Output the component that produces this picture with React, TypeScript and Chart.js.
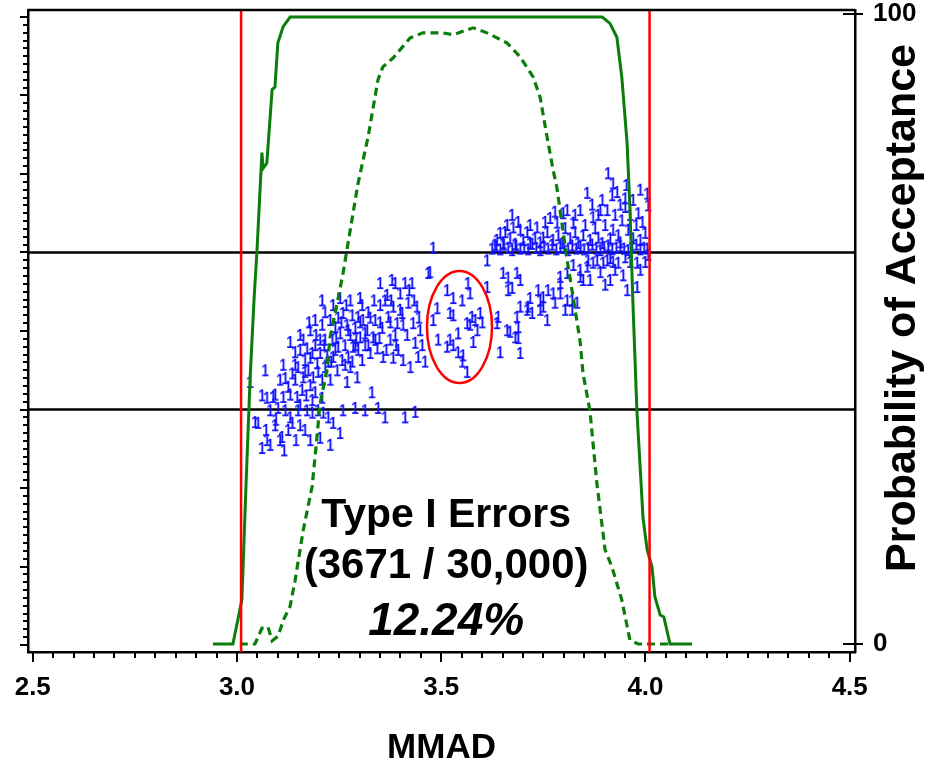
import React, { useEffect, useRef } from 'react';
import { Chart, registerables } from 'chart.js';

Chart.register(...registerables);

const FONT = "'Liberation Sans', Arial, Helvetica, sans-serif";

// axis ranges
const X_MIN = 2.4884;
const X_MAX = 4.5129;
const L_MIN = -0.089;
const L_MAX = 8.089;
const R_MIN = -1.27;
const R_MAX = 100.63;

// ticks
const xMajorTicks = [2.5, 3.0, 3.5, 4.0, 4.5];
const xTickLabels = ['2.5', '3.0', '3.5', '4.0', '4.5'];
const xMinorStep = 0.05;
const leftTickMax = 8;
const leftMinorStep = 0.1;
const rightTicks = [0, 100];
const rightTickLabels = ['0', '100'];

// reference lines
const specLimits = [3.01, 4.01];
const refLevels = [3, 5];

// probability-of-acceptance curves (right axis, %)
const solidCurveX = [2.941, 2.99, 3.012, 3.022, 3.032, 3.042, 3.049, 3.061, 3.064, 3.073, 3.086, 3.093, 3.1, 3.113, 3.122, 3.13, 3.894, 3.913, 3.93, 3.942, 3.955, 3.962, 3.969, 3.979, 3.987, 3.994, 4.004, 4.016, 4.023, 4.036, 4.045, 4.06, 4.114];
const solidCurveY = [0, 0, 7, 25, 42, 55, 62.5, 78, 75.5, 76.3, 88, 88.4, 95.4, 98, 98.8, 99.5, 99.5, 98.5, 96.3, 90, 79.5, 69, 54.6, 37, 28, 20, 15, 12.2, 7.5, 4.6, 4.3, 0, 0];

const dashedCurveX = [3.007, 3.044, 3.061, 3.076, 3.086, 3.1, 3.115, 3.13, 3.142, 3.162, 3.184, 3.196, 3.203, 3.22, 3.228, 3.245, 3.259, 3.269, 3.296, 3.321, 3.345, 3.357, 3.382, 3.399, 3.424, 3.455, 3.504, 3.529, 3.578, 3.612, 3.661, 3.693, 3.725, 3.742, 3.759, 3.774, 3.783, 3.808, 3.823, 3.84, 3.847, 3.864, 3.881, 3.901, 3.918, 3.942, 3.962, 3.982, 4.055];
const dashedCurveY = [0, 0, 2.5, 2.7, 0.5, 1.2, 4, 6, 10, 18, 25, 33, 38, 43.5, 48.7, 54, 58.6, 62.5, 73, 80.5, 89.5, 91.6, 93, 94.3, 96.2, 97, 97, 96.7, 97.8, 97, 95.4, 93.2, 90, 86.8, 80.5, 75.2, 72.5, 61, 55, 48, 43, 37, 25.5, 15, 12.2, 7, 0.6, 0, 0];

// simulated results (left axis), drawn as "1" symbols
const scatterLowBand: number[][] = [
  [3.032, 3.35], [3.044, 2.84], [3.051, 2.83], [3.061, 2.51], [3.069, 3.5], [3.073, 3.15], [3.073, 2.61], [3.081, 2.99], [3.081, 2.55], [3.088, 3.16],
  [3.093, 2.8], [3.1, 3.02], [3.105, 2.61], [3.11, 2.65], [3.113, 3.57], [3.113, 3.16], [3.118, 3.4], [3.125, 3.29], [3.13, 3.86], [3.13, 2.9],
  [3.135, 2.83], [3.135, 3.46], [3.142, 3.73], [3.142, 3.38], [3.147, 3.16], [3.149, 3.54], [3.154, 3.76], [3.159, 3.25], [3.162, 3.41], [3.166, 3.63],
  [3.171, 3.78], [3.171, 2.99], [3.174, 3.5], [3.179, 3.31], [3.184, 3.72], [3.184, 2.96], [3.186, 3.41], [3.191, 3.22], [3.196, 3.59], [3.198, 2.99],
  [3.203, 3.89], [3.203, 3.72], [3.208, 4.08], [3.208, 3.38], [3.208, 3.15], [3.208, 4.39], [3.211, 2.96], [3.215, 3.54], [3.22, 3.69], [3.223, 2.9],
  [3.228, 4.14], [3.228, 3.38], [3.233, 3.89], [3.235, 3.67], [3.235, 2.83], [3.24, 4.05], [3.245, 3.5], [3.247, 3.8],
  [3.166, 3.48], [3.179, 3.66], [3.191, 3.82], [3.198, 3.48], [3.215, 3.89], [3.223, 3.61], [3.24, 3.76], [3.247, 4.17], [3.118, 2.99], [3.149, 2.99],
  [3.154, 2.8], [3.166, 2.74], [3.093, 3.19], [3.105, 3.38], [3.13, 3.19], [3.142, 3.57], [3.154, 3.95], [3.179, 4.01], [3.191, 4.14], [3.215, 4.24],
  [3.235, 4.33], [3.203, 2.64], [3.228, 2.55], [3.179, 2.61],
  [3.061, 3.18], [3.071, 2.74], [3.095, 2.87], [3.115, 2.48], [3.125, 2.74], [3.144, 2.61], [3.154, 3.06], [3.169, 3.18], [3.184, 3.12],
  [3.162, 3.89], [3.176, 4.11], [3.193, 3.95], [3.213, 3.82], [3.23, 3.61], [3.242, 3.91],
];

const scatterMidBand: number[][] = [
  [3.252, 2.7], [3.252, 3.97], [3.257, 3.63], [3.259, 4.23], [3.259, 2.99], [3.264, 3.82], [3.269, 4.08], [3.269, 3.35], [3.272, 3.67], [3.277, 3.95],
  [3.277, 3.54], [3.282, 4.2], [3.284, 3.8], [3.289, 4.04], [3.294, 3.41], [3.296, 3.76], [3.296, 4.18], [3.301, 3.92], [3.306, 3.63], [3.308, 4.14],
  [3.313, 3.82], [3.318, 4.01], [3.321, 4.24], [3.326, 3.72], [3.33, 3.22], [3.333, 3.92], [3.338, 4.14], [3.343, 3.78], [3.345, 3.02], [3.35, 4.33],
  [3.35, 4.61], [3.355, 4.04], [3.357, 3.67], [3.362, 2.9], [3.367, 4.46], [3.37, 4.18], [3.375, 3.89], [3.379, 4.65], [3.382, 4.31], [3.382, 3.66],
  [3.387, 4.61], [3.392, 4.1], [3.394, 3.76], [3.399, 4.48], [3.404, 4.23], [3.406, 3.63], [3.411, 4.61], [3.411, 2.9], [3.416, 3.95], [3.419, 4.36],
  [3.424, 3.54], [3.428, 4.61], [3.431, 4.1], [3.436, 3.85], [3.44, 4.31], [3.443, 3.67], [3.448, 4.01], [3.46, 3.61], [3.468, 4.74],
  [3.264, 3.57], [3.272, 4.01], [3.289, 3.82], [3.301, 4.11], [3.313, 3.97], [3.326, 4.17], [3.338, 3.89], [3.35, 4.11], [3.362, 4.39], [3.375, 4.11],
  [3.387, 3.95], [3.399, 4.27], [3.252, 4.42], [3.277, 4.39], [3.301, 4.42], [3.289, 3.02], [3.313, 2.99], [3.436, 2.97],
  [3.255, 4.11], [3.267, 4.33], [3.282, 3.61], [3.291, 3.91], [3.306, 4.33], [3.321, 3.82], [3.335, 4.39], [3.348, 3.91], [3.365, 3.76], [3.377, 4.39],
  [3.389, 3.82], [3.406, 4.08], [3.421, 4.52], [3.433, 4.39], [3.445, 4.17], [3.453, 3.82],
];

const scatterCircled: number[][] = [
  [3.48, 5.06], [3.472, 4.75], [3.48, 4.14], [3.49, 4.29], [3.492, 3.89], [3.514, 4.52], [3.529, 4.42], [3.551, 4.39], [3.565, 4.61], [3.57, 4.48],
  [3.529, 4.2], [3.521, 4.23], [3.575, 4.18], [3.583, 4.14], [3.595, 4.23], [3.6, 4.11], [3.563, 4.1], [3.57, 4.08], [3.541, 3.97], [3.521, 3.89],
  [3.529, 3.82], [3.578, 3.86], [3.514, 3.8], [3.541, 3.73], [3.553, 3.69], [3.551, 3.61], [3.563, 3.48], [3.612, 4.56], [3.612, 4.9], [3.588, 4.01],
];

const scatterLowRight: number[][] = [
  [3.639, 4.18], [3.636, 4.1], [3.644, 3.73], [3.661, 4.01], [3.668, 3.99], [3.685, 4.18], [3.688, 4.05], [3.681, 3.92], [3.693, 3.72], [3.688, 3.91],
  [3.651, 4.74], [3.663, 4.68], [3.663, 4.52], [3.685, 4.74], [3.673, 4.55], [3.693, 4.65], [3.71, 4.27], [3.717, 4.42], [3.712, 4.31], [3.722, 4.23],
  [3.693, 4.31], [3.737, 4.52], [3.742, 4.39], [3.742, 4.27], [3.749, 4.43], [3.749, 4.31], [3.759, 4.14], [3.761, 4.52], [3.774, 4.48], [3.778, 4.36],
  [3.791, 4.48], [3.791, 4.61], [3.803, 4.27], [3.808, 4.39], [3.82, 4.27], [3.832, 4.36], [3.82, 4.39], [3.791, 4.69], [3.808, 4.74], [3.823, 4.84],
  [3.84, 4.78], [3.857, 4.82], [3.859, 4.9], [3.871, 4.87], [3.881, 4.9], [3.896, 4.87], [3.906, 4.9], [3.913, 4.93], [3.92, 4.88], [3.933, 4.87],
  [3.95, 4.94], [3.979, 4.87], [3.979, 4.56], [3.987, 4.78], [3.84, 4.69], [3.864, 4.65], [3.847, 4.65], [3.889, 4.75], [3.925, 4.78], [3.945, 4.71],
  [3.962, 4.88], [3.999, 4.88], [3.901, 4.59], [3.955, 4.52], [3.913, 4.65],
];

const scatterOnLine: number[][] = [
  [3.624, 5.05], [3.634, 5.08], [3.644, 5.04], [3.653, 5.1], [3.663, 5.06], [3.673, 5.03], [3.683, 5.09], [3.693, 5.05], [3.702, 5.07], [3.712, 5.04],
  [3.722, 5.11], [3.732, 5.06], [3.742, 5.03], [3.751, 5.08], [3.761, 5.05], [3.771, 5.1], [3.781, 5.04], [3.791, 5.07], [3.8, 5.06], [3.81, 5.03],
  [3.82, 5.09], [3.83, 5.05], [3.84, 5.08], [3.849, 5.04], [3.859, 5.06], [3.869, 5.1], [3.879, 5.05], [3.889, 5.03], [3.898, 5.07], [3.908, 5.09],
  [3.918, 5.04], [3.928, 5.06], [3.938, 5.08], [3.947, 5.05], [3.957, 5.03], [3.967, 5.07], [3.977, 5.1], [3.987, 5.04], [3.996, 5.06], [4.004, 5.05],
];

const scatterHighRight: number[][] = [
  [3.636, 5.16], [3.644, 5.25], [3.661, 5.35], [3.676, 5.32], [3.693, 5.29], [3.71, 5.26], [3.734, 5.32], [3.749, 5.19], [3.766, 5.44], [3.783, 5.38],
  [3.798, 5.5], [3.808, 5.54], [3.823, 5.38], [3.84, 5.54], [3.857, 5.76], [3.871, 5.45], [3.889, 5.54], [3.908, 6.01], [3.92, 5.88], [3.93, 5.77],
  [3.95, 5.69], [4.004, 5.75], [3.95, 5.58], [3.982, 5.5], [3.906, 5.54], [3.992, 5.39], [3.942, 5.41], [3.92, 5.29],
  [3.651, 5.12], [3.668, 5.18], [3.681, 5.11], [3.7, 5.16], [3.717, 5.12], [3.729, 5.18], [3.742, 5.13], [3.759, 5.26], [3.773, 5.16], [3.786, 5.22],
  [3.796, 5.12], [3.803, 5.31], [3.815, 5.18], [3.827, 5.26], [3.835, 5.12], [3.847, 5.22], [3.852, 5.35], [3.864, 5.16], [3.876, 5.31], [3.884, 5.19],
  [3.894, 5.12], [3.901, 5.35], [3.913, 5.18], [3.925, 5.48], [3.933, 5.22], [3.938, 5.13], [3.957, 5.29], [3.962, 5.48], [3.969, 5.18], [3.977, 5.35],
  [3.987, 5.16], [3.999, 5.25], [4.006, 5.6], [4.006, 4.97], [3.894, 5.67], [3.869, 5.61], [3.827, 5.48], [3.778, 5.52], [3.754, 5.39], [3.717, 5.35],
  [3.688, 5.39], [3.656, 5.26], [3.631, 5.1], [3.673, 5.48], [3.884, 5.48], [3.938, 5.61], [3.969, 5.67], [3.987, 5.8], [3.953, 5.86], [3.918, 5.73],
];

// annotation
const ellipseCenter = [3.5447, 4.051];
const ellipseRadii = [0.0796, 0.713];
const annotationX = 3.512;
const annotationLines = ['Type I Errors', '(3671 / 30,000)', '12.24%'];
const annotationBaselines = [18.6, 10.5, 1.4];
const annotationFonts = [`bold 41px ${FONT}`, `bold 42px ${FONT}`, `italic bold 46px ${FONT}`];
const rightTitle = 'Probability of Acceptance';
const xTitle = 'MMAD';

const GREEN = '#0b7d0b';

const overlayPlugin = {
  id: 'overlay',
  afterDatasetsDraw(chart: any) {
    const { ctx } = chart;
    const xs = chart.scales.x;
    const yl = chart.scales.y;
    const yr = chart.scales.yR;
    ctx.save();
    const cx = xs.getPixelForValue(ellipseCenter[0]);
    const cy = yl.getPixelForValue(ellipseCenter[1]);
    const rx = Math.abs(xs.getPixelForValue(ellipseCenter[0] + ellipseRadii[0]) - cx);
    const ry = Math.abs(yl.getPixelForValue(ellipseCenter[1] + ellipseRadii[1]) - cy);
    ctx.strokeStyle = '#ff0000';
    ctx.lineWidth = 2.5;
    ctx.beginPath();
    ctx.ellipse(cx, cy, rx, ry, 0, 0, Math.PI * 2);
    ctx.stroke();
    ctx.fillStyle = '#000';
    ctx.textAlign = 'center';
    ctx.textBaseline = 'alphabetic';
    const tx = xs.getPixelForValue(annotationX);
    annotationLines.forEach((t, i) => {
      ctx.font = annotationFonts[i];
      ctx.fillText(t, tx, yr.getPixelForValue(annotationBaselines[i]));
    });
    ctx.restore();
  },
  afterDraw(chart: any) {
    const { ctx, chartArea: a } = chart;
    const xs = chart.scales.x;
    const yl = chart.scales.y;
    const yr = chart.scales.yR;
    ctx.save();
    ctx.strokeStyle = '#000';
    ctx.lineWidth = 2;
    const seg = (x1: number, y1: number, x2: number, y2: number) => {
      ctx.beginPath();
      ctx.moveTo(x1, y1);
      ctx.lineTo(x2, y2);
      ctx.stroke();
    };
    const nX = Math.round((xMajorTicks[xMajorTicks.length - 1] - xMajorTicks[0]) / xMinorStep);
    for (let i = 0; i <= nX; i++) {
      const v = xMajorTicks[0] + i * xMinorStep;
      const px = Math.round(xs.getPixelForValue(v));
      const len = i % 10 === 0 ? 10 : 6;
      seg(px, a.bottom, px, a.bottom + len);
    }
    const nL = Math.round(leftTickMax / leftMinorStep);
    for (let i = 0; i <= nL; i++) {
      const py = Math.round(yl.getPixelForValue(i * leftMinorStep));
      const len = i % 10 === 0 ? 8 : 5;
      seg(a.left - len, py, a.left, py);
    }
    rightTicks.forEach((v) => {
      const py = Math.round(yr.getPixelForValue(v));
      seg(a.right - 12, py, a.right + 8, py);
    });
    ctx.lineWidth = 2.5;
    seg(a.left, a.top, a.right, a.top);
    ctx.fillStyle = '#000';
    ctx.font = `bold 43px ${FONT}`;
    ctx.textAlign = 'center';
    ctx.textBaseline = 'middle';
    ctx.translate(903, (a.top + a.bottom) / 2 - 23);
    ctx.rotate(-Math.PI / 2);
    ctx.fillText(rightTitle, 0, 0);
    ctx.restore();
  },
};

const pts = (arr: number[][]) => arr.map(([x, y]) => ({ x, y }));
const curve = (xsArr: number[], ysArr: number[]) => xsArr.map((x, i) => ({ x, y: ysArr[i] }));

export default function App() {
  const ref = useRef<HTMLCanvasElement>(null);

  useEffect(() => {
    const canvas = ref.current;
    if (!canvas) return;

    const glyph = document.createElement('canvas');
    glyph.width = 12;
    glyph.height = 18;
    const g = glyph.getContext('2d')!;
    g.fillStyle = '#1010ff';
    g.font = `bold 16px ${FONT}`;
    g.textAlign = 'center';
    g.textBaseline = 'alphabetic';
    g.translate(6, 0);
    g.scale(0.85, 1);
    g.fillText('1', 0, 14.7);

    const zeroPad = (s: any) => {
      s.paddingTop = 0;
      s.paddingBottom = 0;
      s.paddingLeft = 0;
      s.paddingRight = 0;
    };

    const lineDs = (data: any[], color: string, width: number, yAxisID: string, order: number, dash: number[] = []) => ({
      type: 'line' as const,
      data,
      borderColor: color,
      borderWidth: width,
      borderDash: dash,
      pointRadius: 0,
      showLine: true,
      fill: false,
      tension: 0,
      yAxisID,
      order,
    });

    const chart = new Chart(canvas, {
      type: 'scatter',
      data: {
        datasets: [
          ...refLevels.map((lv) => lineDs([{ x: X_MIN, y: lv }, { x: X_MAX, y: lv }], '#000000', 2.5, 'y', 6)),
          {
            type: 'scatter' as const,
            data: pts([...scatterLowBand, ...scatterMidBand, ...scatterCircled, ...scatterLowRight, ...scatterOnLine, ...scatterHighRight]),
            pointStyle: glyph as any,
            pointRadius: 5,
            showLine: false,
            yAxisID: 'y',
            order: 5,
          } as any,
          lineDs(curve(dashedCurveX, dashedCurveY), GREEN, 3.2, 'yR', 4, [8, 5]),
          lineDs(curve(solidCurveX, solidCurveY), GREEN, 3, 'yR', 3),
          ...specLimits.map((s) => lineDs([{ x: s, y: R_MIN }, { x: s, y: R_MAX }], '#ff0000', 2.5, 'yR', 1)),
        ] as any,
      },
      options: {
        animation: false,
        responsive: false,
        events: [],
        layout: { padding: { top: 10, left: 0, right: 0, bottom: 0 } },
        plugins: { legend: { display: false }, tooltip: { enabled: false } },
        scales: {
          x: {
            type: 'linear',
            position: 'bottom',
            min: X_MIN,
            max: X_MAX,
            afterFit: (s: any) => {
              s.height = 109;
              zeroPad(s);
            },
            afterBuildTicks: (s: any) => {
              s.ticks = xMajorTicks.map((v) => ({ value: v }));
            },
            ticks: {
              callback: (_v: any, i: number) => xTickLabels[i],
              font: { family: FONT, size: 26, weight: 'bold' },
              color: '#000',
              padding: 20,
              maxRotation: 0,
              autoSkip: false,
            },
            grid: { display: false, drawTicks: false },
            border: { display: true, color: '#000', width: 2.5 },
            title: {
              display: true,
              text: xTitle,
              color: '#000',
              font: { family: FONT, size: 35, weight: 'bold', lineHeight: 0.6 },
              padding: { top: 0, bottom: 2 },
            },
          },
          y: {
            type: 'linear',
            position: 'left',
            min: L_MIN,
            max: L_MAX,
            afterFit: (s: any) => {
              s.width = 28;
              zeroPad(s);
            },
            ticks: { display: false },
            grid: { display: false, drawTicks: false },
            border: { display: true, color: '#000', width: 2.5 },
          },
          yR: {
            type: 'linear',
            position: 'right',
            min: R_MIN,
            max: R_MAX,
            afterFit: (s: any) => {
              s.width = 73;
              zeroPad(s);
            },
            afterBuildTicks: (s: any) => {
              s.ticks = rightTicks.map((v) => ({ value: v }));
            },
            ticks: {
              callback: (_v: any, i: number) => rightTickLabels[i],
              font: { family: FONT, size: 26, weight: 'bold' },
              color: '#000',
              padding: 18,
              autoSkip: false,
            },
            grid: { display: false, drawTicks: false },
            border: { display: true, color: '#000', width: 2.5 },
          },
        },
      } as any,
      plugins: [overlayPlugin],
    });

    return () => chart.destroy();
  }, []);

  return (
    <div style={{ position: 'absolute', left: 0, top: 0, width: 928, height: 761, background: '#fff' }}>
      <canvas ref={ref} width={928} height={761} style={{ display: 'block', width: 928, height: 761 }} />
    </div>
  );
}
